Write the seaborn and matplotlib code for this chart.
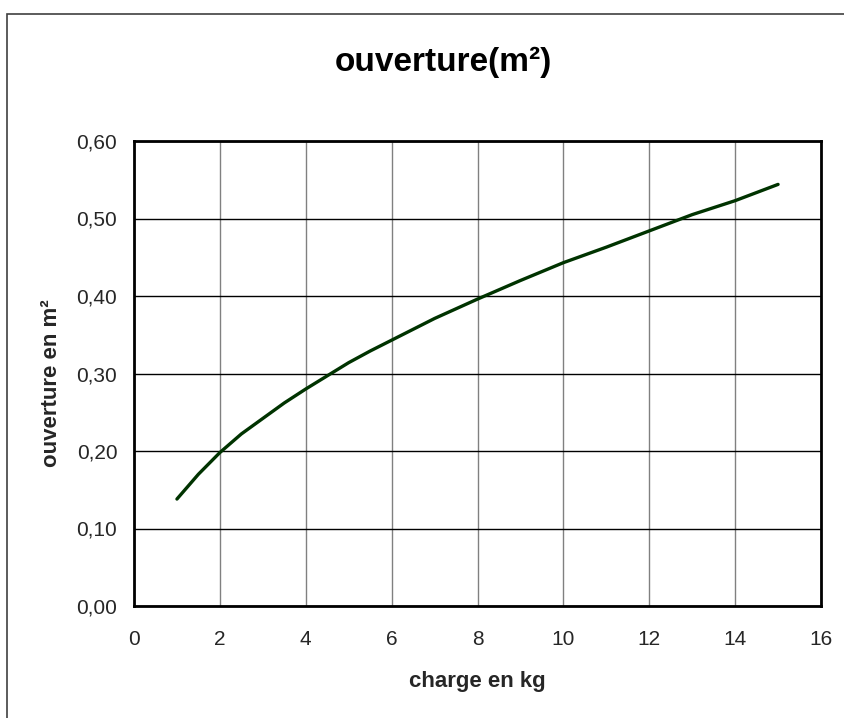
import seaborn as sns
import matplotlib.pyplot as plt
import matplotlib.ticker as mticker
from matplotlib.patches import Rectangle
import pandas as pd

# charge (kg) vs ouverture (m²)
charge = [1, 1.5, 2, 2.5, 3, 3.5, 4, 4.5, 5, 5.5, 6, 7, 8, 9, 10, 11, 12, 13, 14, 15]
ouverture = [0.138, 0.170, 0.198, 0.222, 0.242, 0.262, 0.280, 0.297, 0.314, 0.329,
             0.343, 0.371, 0.396, 0.420, 0.443, 0.463, 0.484, 0.505, 0.523, 0.544]
x_ticks = [0, 2, 4, 6, 8, 10, 12, 14, 16]
y_ticks = [0.0, 0.1, 0.2, 0.3, 0.4, 0.5, 0.6]

data = pd.DataFrame({'charge': charge, 'ouverture': ouverture})

sns.set_style('white')
plt.rcParams['font.family'] = ['Liberation Sans', 'DejaVu Sans']

W, H = 844, 718
fig = plt.figure(figsize=(W / 100, H / 100), dpi=100)
# outer chart-area border, cut off at right and bottom like the original
fig.patches.append(Rectangle((7 / W, -0.05), 1.2, 1 - 14 / H + 0.05,
                             transform=fig.transFigure, fill=False,
                             edgecolor='#404040', linewidth=1.2))

left, right, top, bottom = 134, 821, 141, 606
ax = fig.add_axes([left / W, 1 - bottom / H, (right - left) / W, (bottom - top) / H])
sns.lineplot(data=data, x='charge', y='ouverture', ax=ax, color='#003300', linewidth=2.4)

ax.set_xlim(0, 16)
ax.set_ylim(0, 0.6)
ax.set_xticks(x_ticks)
ax.set_yticks(y_ticks)
ax.yaxis.set_major_formatter(mticker.FuncFormatter(lambda v, p: f'{v:.2f}'.replace('.', ',')))

ax.grid(axis='y', color='black', linewidth=1.0)
ax.grid(axis='x', color='#808080', linewidth=1.0)
ax.set_axisbelow(True)
for s in ax.spines.values():
    s.set_color('black')
    s.set_linewidth(2)

ax.tick_params(axis='both', which='major', direction='out', length=5, width=1,
               color='#808080', labelsize=15)
ax.tick_params(axis='y', pad=7)
ax.tick_params(axis='x', pad=12)

ax.set_xlabel('charge en kg', fontsize=16, fontweight='bold')
ax.set_ylabel('ouverture en m²', fontsize=16, fontweight='bold')
ax.xaxis.set_label_coords(0.5, (bottom - 682) / (bottom - top))
ax.xaxis.label.set_va('center')
ax.yaxis.set_label_coords((52 - left) / (right - left), (bottom - 383) / (bottom - top))
ax.yaxis.label.set_va('center')

fig.text(443 / W, 1 - 62 / H, 'ouverture(m²)', ha='center', va='center',
         fontsize=24, fontweight='bold', color='black')

plt.savefig('out.png', dpi=100)
